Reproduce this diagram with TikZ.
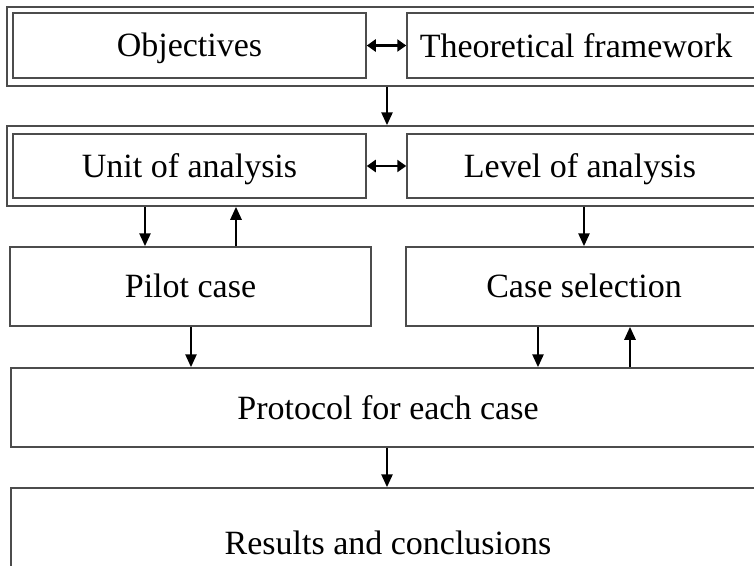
\documentclass[tikz,border=0pt]{standalone}
\usepackage{fontspec}
\setmainfont{Liberation Serif}
\usetikzlibrary{arrows.meta}
\begin{document}
\begin{tikzpicture}[x=1pt,y=-1pt,
  box/.style={draw=black!70, line width=1.5pt, rectangle, inner sep=0pt},
  lbl/.style={font=\fontsize{34}{40}\selectfont, inner sep=0pt, text height=22.5pt, text depth=0pt},
  arr/.style={line width=2.6pt, -{Triangle[length=13pt,width=11pt]}},
  darr/.style={line width=2.8pt, {Triangle[length=9pt,width=12pt]}-{Triangle[length=9pt,width=12pt]}}]
\path[use as bounding box] (0,0) rectangle (754,565);
\clip (0,0) rectangle (754,565);
% outer boxes
\node[box, minimum width=760pt, minimum height=79pt] (outer1) at (387,46.5) {};
\node[box, minimum width=760pt, minimum height=80pt] (outer2) at (387,166) {};
% inner boxes
\node[box, lbl, minimum width=353pt, minimum height=65pt] (obj) at (189.5,45.5) {Objectives};
\node[box, minimum width=363pt, minimum height=65pt] (tf) at (588.5,45.5) {};
\node[lbl] (tftext) at (576,46) {Theoretical framework};
\node[box, lbl, minimum width=353pt, minimum height=64pt] (unit) at (189.5,166) {Unit of analysis};
\node[box, minimum width=363pt, minimum height=64pt] (level) at (588.5,166) {};
\node[lbl] (leveltext) at (580,166) {Level of analysis};
\node[box, lbl, minimum width=361pt, minimum height=79pt] (pilot) at (190.5,286.5) {Pilot case};
\node[box, minimum width=364pt, minimum height=79pt] (cs) at (588,286.5) {};
\node[lbl] (cstext) at (584,286.5) {Case selection};
\node[box, minimum width=759pt, minimum height=79pt] (prot) at (390.5,407.5) {};
\node[lbl] (prottext) at (388,408) {Protocol for each case};
\node[box, minimum width=759pt, minimum height=112pt] (res) at (390.5,544) {};
\node[lbl] (restext) at (388,543) {Results and conclusions};
% x positions of vertical connectors
\coordinate (xa) at (145,0);
\coordinate (xb) at (236,0);
\coordinate (xc) at (584,0);
\coordinate (xd) at (191,0);
\coordinate (xe) at (538,0);
\coordinate (xf) at (630,0);
\coordinate (xg) at (387,0);
% connectors
\draw[darr] (obj.east) -- (tf.west);
\draw[darr] (unit.east) -- (level.west);
\draw[arr] (outer1.south) -- (outer2.north);
\draw[arr] (outer2.south -| xa) -- (pilot.north -| xa);
\draw[arr] (pilot.north -| xb) -- (outer2.south -| xb);
\draw[arr] (outer2.south -| xc) -- (cs.north -| xc);
\draw[arr] (pilot.south -| xd) -- (prot.north -| xd);
\draw[arr] (cs.south -| xe) -- (prot.north -| xe);
\draw[arr] (prot.north -| xf) -- (cs.south -| xf);
\draw[arr] (prot.south -| xg) -- (res.north -| xg);
\end{tikzpicture}
\end{document}
